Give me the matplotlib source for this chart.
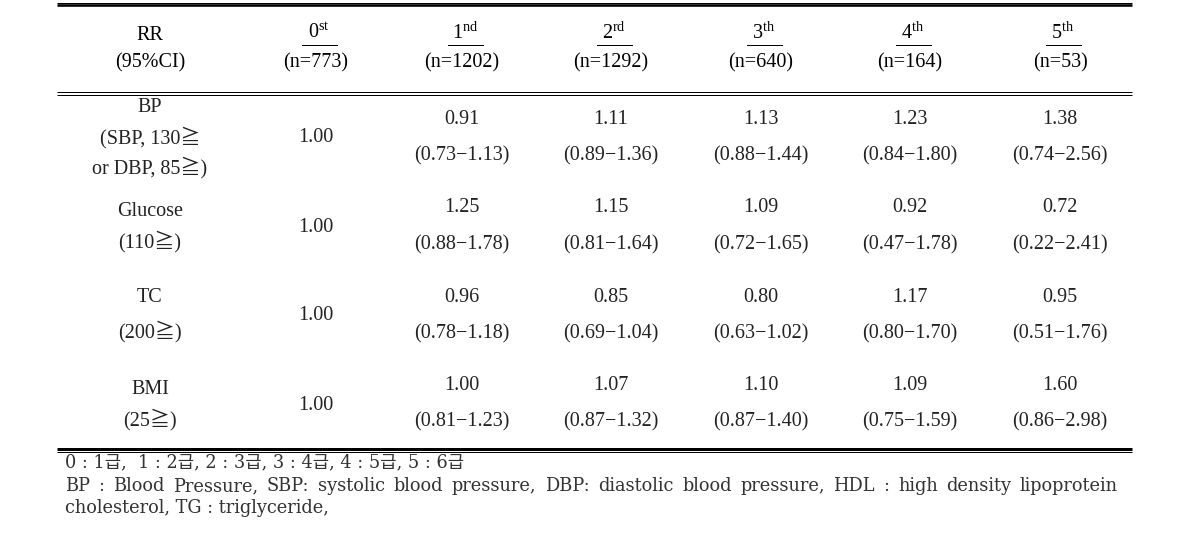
import matplotlib
matplotlib.use("Agg")
import matplotlib.pyplot as plt

plt.rcParams['font.family'] = ['Liberation Serif', 'DejaVu Serif', 'Noto Sans CJK KR']
plt.rcParams['mathtext.fontset'] = 'custom'
plt.rcParams['mathtext.rm'] = 'Liberation Serif'
plt.rcParams['mathtext.it'] = 'Liberation Serif:italic'

# ---- data ----
grades = ["0", "1", "2", "3", "4", "5"]
suffixes = ["st", "nd", "rd", "th", "th", "th"]
counts = [773, 1202, 1292, 640, 164, 53]
row_labels = [["BP", "(SBP, 130≧", "or DBP, 85≧)"],
              ["Glucose", "(110≧)"],
              ["TC", "(200≧)"],
              ["BMI", "(25≧)"]]
rr_values = [[1.00, 0.91, 1.11, 1.13, 1.23, 1.38],
             [1.00, 1.25, 1.15, 1.09, 0.92, 0.72],
             [1.00, 0.96, 0.85, 0.80, 1.17, 0.95],
             [1.00, 1.00, 1.07, 1.10, 1.09, 1.60]]
ci_low = [[None, 0.73, 0.89, 0.88, 0.84, 0.74],
          [None, 0.88, 0.81, 0.72, 0.47, 0.22],
          [None, 0.78, 0.69, 0.63, 0.80, 0.51],
          [None, 0.81, 0.87, 0.87, 0.75, 0.86]]
ci_high = [[None, 1.13, 1.36, 1.44, 1.80, 2.56],
           [None, 1.78, 1.64, 1.65, 1.78, 2.41],
           [None, 1.18, 1.04, 1.02, 1.70, 1.76],
           [None, 1.23, 1.32, 1.40, 1.59, 2.98]]
header_label = ["RR", "(95%CI)"]
footnote1 = "0 : 1급,  1 : 2급, 2 : 3급, 3 : 4급, 4 : 5급, 5 : 6급"
footnote2 = ("BP : Blood Pressure, SBP: systolic blood pressure, DBP: diastolic blood "
             "pressure, HDL : high density lipoprotein")
footnote3 = "cholesterol, TG : triglyceride,"

# ---- layout ----
W, H = 1192, 548
fig = plt.figure(figsize=(W / 100, H / 100), dpi=100)
ax = fig.add_axes([0, 0, 1, 1])
ax.set_xlim(0, W)
ax.set_ylim(H, 0)
ax.axis('off')

col_x = [150, 316, 462, 611, 761, 910, 1060]
x0, x1 = 57, 1132
px = 0.72  # points per pixel

def hline(y, lw_px):
    ax.plot([x0, x1], [y, y], color='black', lw=lw_px * px, solid_capstyle='butt')

hline(2.5, 1.0)
hline(5.2, 2.6)
hline(92.3, 1.0)
hline(94.8, 1.0)
hline(448.5, 3.0)
hline(451.8, 1.0)

hfs = 14.5
bfs = 14.5
ffs = 12.8
col = '#222222'
fcol = '#333333'
ffam = ['DejaVu Serif', 'Noto Sans CJK KR']

# header
ax.text(col_x[0], 35, header_label[0], ha='center', va='center', fontsize=hfs, color='black')
ax.text(col_x[0], 63, header_label[1], ha='center', va='center', fontsize=hfs, color='black')
for i in range(6):
    cx = col_x[i + 1]
    ax.text(cx + 3, 33, grades[i] + r"$^{\mathrm{" + suffixes[i] + "}}$", ha='center',
            va='center', fontsize=hfs, color='black')
    ax.plot([cx + 3 - 17.5, cx + 3 + 17.5], [45, 45], color='black', lw=1.0 * px)
    ax.text(cx, 63, f"(n={counts[i]})", ha='center', va='center', fontsize=hfs, color='black')

# body
label_y = [[108, 138, 168], [212, 242], [298, 332], [390, 420]]
mid_y = [138, 227, 316, 405]
val_y = [[120, 156], [208, 245], [297, 334], [386, 422]]
for r in range(4):
    for k, lab in enumerate(row_labels[r]):
        ax.text(col_x[0], label_y[r][k], lab, ha='center', va='center', fontsize=bfs, color=col)
    for c in range(6):
        cx = col_x[c + 1]
        if ci_low[r][c] is None:
            ax.text(cx, mid_y[r], f"{rr_values[r][c]:.2f}", ha='center', va='center',
                    fontsize=bfs, color=col)
        else:
            ax.text(cx, val_y[r][0], f"{rr_values[r][c]:.2f}", ha='center', va='center',
                    fontsize=bfs, color=col)
            ax.text(cx, val_y[r][1], f"({ci_low[r][c]:.2f}\u2212{ci_high[r][c]:.2f})",
                    ha='center', va='center', fontsize=bfs, color=col)

# footnotes
fx0, fx1 = 65, 1118
ax.text(fx0, 462, footnote1, ha='left', va='center', fontsize=ffs, color=fcol, family=ffam)
ax.text(fx0, 508, footnote3, ha='left', va='center', fontsize=ffs, color=fcol, family=ffam)

# justified line 2
fig.canvas.draw()
renderer = fig.canvas.get_renderer()
words = footnote2.split(" ")
objs = []
widths = []
for w in words:
    t = ax.text(0, 486, w, ha='left', va='center', fontsize=ffs, color=fcol, family=ffam)
    bb = t.get_window_extent(renderer)
    objs.append(t)
    widths.append(bb.width)
gap = (fx1 - fx0 - sum(widths)) / (len(words) - 1)
x = fx0
for t, wd in zip(objs, widths):
    t.set_x(x)
    x += wd + gap

fig.savefig("out.png", dpi=100)
